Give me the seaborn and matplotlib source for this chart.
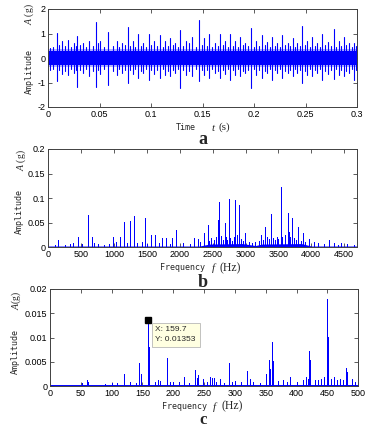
import numpy as np
import pandas as pd
import matplotlib
matplotlib.use("Agg")
import matplotlib.pyplot as plt
import seaborn as sns

# ---------------- data: panel a (time signal) ----------------
spike_t = [0.0016, 0.0081, 0.0130, 0.0195, 0.0250, 0.0282, 0.0341, 0.0399, 0.0464, 0.0503,
           0.0584, 0.0665, 0.0714, 0.0772, 0.0821, 0.0869, 0.0924, 0.0973, 0.1022, 0.1086,
           0.1135, 0.1184, 0.1232, 0.1281, 0.1336, 0.1395, 0.1466, 0.1515, 0.1563, 0.1622,
           0.1670, 0.1719, 0.1768, 0.1816, 0.1865, 0.1914, 0.1969, 0.2021, 0.2076, 0.2124,
           0.2173, 0.2222, 0.2270, 0.2325, 0.2374, 0.2416, 0.2465, 0.2514, 0.2562, 0.2611,
           0.2659, 0.2715, 0.2773, 0.2822, 0.2870, 0.2919, 0.2968]
spike_pos = [0.4, 1.03, 0.7, 0.74, 0.6, 0.9, 0.6, 0.71, 1.46, 0.7,
             1.07, 0.7, 0.6, 1.26, 0.7, 1.0, 0.6, 1.0, 0.7, 0.93,
             0.7, 0.8, 0.6, 1.14, 0.7, 0.85, 1.57, 0.8, 0.98, 0.6,
             1.0, 0.7, 1.0, 0.7, 0.85, 0.6, 1.21, 0.7, 0.93, 0.65,
             0.85, 0.6, 0.93, 0.6, 0.8, 0.6, 1.31, 0.7, 0.85, 0.6,
             1.0, 0.65, 1.17, 0.7, 0.85, 0.6, 0.6]
spike_neg = [-0.5, -0.93, -0.65, -0.7, -0.6, -1.17, -0.6, -0.75, -1.2, -0.65,
             -1.1, -0.7, -0.6, -1.0, -0.65, -0.8, -0.6, -0.9, -0.65, -0.8,
             -0.7, -0.75, -0.6, -1.23, -0.7, -0.75, -0.95, -0.7, -0.8, -0.6,
             -0.8, -0.65, -0.9, -0.7, -0.75, -0.6, -1.23, -0.7, -0.8, -0.6,
             -0.9, -0.6, -0.8, -0.6, -0.75, -0.6, -1.0, -0.7, -0.75, -0.6,
             -0.9, -0.65, -0.85, -0.7, -0.75, -0.6, -0.9]
minor_t = [0.0050, 0.0105, 0.0163, 0.0222, 0.0266, 0.0312, 0.0370, 0.0432, 0.0484, 0.0543,
           0.0625, 0.0690, 0.0743, 0.0797, 0.0845, 0.0897, 0.0949, 0.0998, 0.1054, 0.1110,
           0.1160, 0.1208, 0.1257, 0.1309, 0.1366, 0.1430, 0.1490, 0.1539, 0.1593, 0.1646,
           0.1695, 0.1744, 0.1792, 0.1841, 0.1890, 0.1942, 0.1995, 0.2049, 0.2100, 0.2149,
           0.2198, 0.2246, 0.2298, 0.2350, 0.2395, 0.2441, 0.2490, 0.2538, 0.2587, 0.2635,
           0.2687, 0.2744, 0.2798, 0.2846, 0.2895, 0.2944, 0.2990]
minor_pos = [0.45, 0.55, 0.5, 0.45, 0.5, 0.55, 0.45, 0.5, 0.6, 0.45,
             0.5, 0.45, 0.55, 0.5, 0.45, 0.5, 0.45, 0.55, 0.5, 0.45,
             0.5, 0.55, 0.45, 0.5, 0.6, 0.45, 0.55, 0.5, 0.45, 0.5,
             0.55, 0.45, 0.5, 0.45, 0.55, 0.5, 0.45, 0.5, 0.55, 0.45,
             0.5, 0.45, 0.55, 0.5, 0.45, 0.5, 0.55, 0.45, 0.5, 0.45,
             0.55, 0.5, 0.45, 0.5, 0.55, 0.45, 0.5]
minor_neg = [-0.45, -0.5, -0.55, -0.45, -0.5, -0.5, -0.45, -0.55, -0.5, -0.45,
             -0.55, -0.45, -0.5, -0.5, -0.45, -0.55, -0.45, -0.5, -0.5, -0.45,
             -0.55, -0.5, -0.45, -0.5, -0.55, -0.45, -0.5, -0.5, -0.45, -0.55,
             -0.5, -0.45, -0.5, -0.45, -0.55, -0.5, -0.45, -0.5, -0.55, -0.45,
             -0.5, -0.45, -0.55, -0.5, -0.45, -0.5, -0.55, -0.45, -0.5, -0.45,
             -0.55, -0.5, -0.45, -0.5, -0.55, -0.45, -0.5]
band_core = 0.27
band_halo = 0.36
time_range = [0, 0.3]
time_ticks = [0, 0.05, 0.1, 0.15, 0.2, 0.25, 0.3]
time_ticklabels = ["0", "0.05", "0.1", "0.15", "0.2", "0.25", "0.3"]
amp_a_ticks = [-2, -1, 0, 1, 2]
amp_a_ticklabels = ["-2", "-1", "0", "1", "2"]

# ---------------- data: panel b (full spectrum) ----------------
b_peak_f = [152, 448, 610, 661, 991, 1093, 1149, 1245, 1301, 1464,
            1566, 1627, 1728, 1789, 1881, 1942, 2210, 2271, 2363, 2424,
            2576, 2592, 2683, 2744, 2846, 2907, 2999, 3228, 3293, 3380,
            3537, 3639, 3711, 3802, 3868, 3964, 4040, 4269, 4345, 4452]
b_peak_a = [0.015, 0.02, 0.066, 0.02, 0.02, 0.02, 0.051, 0.054, 0.064, 0.059,
            0.025, 0.025, 0.019, 0.019, 0.019, 0.035, 0.018, 0.017, 0.028, 0.045,
            0.055, 0.091, 0.05, 0.097, 0.095, 0.086, 0.028, 0.025, 0.04, 0.067,
            0.122, 0.07, 0.06, 0.04, 0.028, 0.017, 0.011, 0.014, 0.008, 0.008]
b_small_f = [100, 250, 330, 380, 520, 700, 760, 850, 930, 1030, 1200, 1350, 1420, 1500,
             1680, 1850, 2050, 2150, 2300, 2450, 2480, 2520, 2550, 2620, 2650, 2700, 2720,
             2770, 2800, 2820, 2870, 2930, 2960, 3050, 3100, 3150, 3200, 3260, 3320, 3350,
             3420, 3450, 3480, 3500, 3560, 3600, 3660, 3680, 3740, 3760, 3840, 3900, 4100,
             4200, 4400, 4550, 4650]
b_small_a = [0.004, 0.005, 0.006, 0.008, 0.006, 0.008, 0.006, 0.005, 0.007, 0.01, 0.009, 0.008, 0.01, 0.006,
             0.008, 0.006, 0.008, 0.006, 0.01, 0.012, 0.018, 0.015, 0.02, 0.022, 0.015, 0.02, 0.014,
             0.018, 0.012, 0.02, 0.025, 0.016, 0.012, 0.01, 0.008, 0.01, 0.012, 0.015, 0.02, 0.016,
             0.018, 0.014, 0.02, 0.016, 0.02, 0.024, 0.03, 0.02, 0.018, 0.015, 0.012, 0.01, 0.008,
             0.006, 0.005, 0.006, 0.004]
b_floor_f = [0, 2300, 2450, 2950, 3150, 3250, 3850, 4000, 4700]
b_floor_a = [0.002, 0.002, 0.006, 0.007, 0.003, 0.006, 0.007, 0.002, 0.002]
freq_b_range = [0, 4700]
freq_b_ticks = [0, 500, 1000, 1500, 2000, 2500, 3000, 3500, 4000, 4500]
amp_b_ticks = [0, 0.05, 0.1, 0.15, 0.2]
amp_b_ticklabels = ["0", "0.05", "0.1", "0.15", "0.2"]

# ---------------- data: panel c (zoomed spectrum) ----------------
c_peak_f = [52, 60, 62, 90, 100, 108, 120, 130, 140, 145, 148, 159.7, 160.5, 170, 175, 178,
            190, 195, 200, 210, 218, 225, 235, 238, 240, 248, 255, 260, 263, 266, 270, 275,
            282, 290, 295, 300, 310, 320, 325, 330, 340, 350, 355, 357, 360, 362, 370, 378,
            385, 390, 400, 410, 415, 418, 420, 422, 430, 435, 440, 445, 450, 451, 455, 460,
            465, 470, 475, 480, 482, 490, 495]
c_peak_a = [0.0006, 0.0012, 0.0008, 0.0005, 0.0006, 0.0006, 0.0024, 0.0008, 0.0006, 0.0048, 0.0025,
            0.01353, 0.0081, 0.0008, 0.0012, 0.001, 0.0057, 0.0008, 0.0008, 0.0008, 0.0018, 0.0006,
            0.0032, 0.0016, 0.0023, 0.0015, 0.0008, 0.0018, 0.0016, 0.0017, 0.0008, 0.0015, 0.0007,
            0.0047, 0.0008, 0.001, 0.0008, 0.003, 0.0015, 0.0008, 0.0007, 0.0025, 0.0053, 0.0035,
            0.009, 0.0052, 0.001, 0.0012, 0.0008, 0.0018, 0.0008, 0.0012, 0.0018, 0.0015, 0.0072,
            0.0053, 0.0012, 0.0012, 0.0015, 0.0018, 0.018, 0.0101, 0.0015, 0.0018, 0.0012, 0.0015,
            0.0012, 0.0038, 0.0028, 0.0015, 0.0008]
c_floor = 0.0002
freq_c_range = [0, 500]
freq_c_ticks = [0, 50, 100, 150, 200, 250, 300, 350, 400, 450, 500]
amp_c_ticks = [0, 0.005, 0.01, 0.015, 0.02]
amp_c_ticklabels = ["0", "0.005", "0.01", "0.015", "0.02"]
tip_f = 159.7
tip_a = 0.01353
tip_text = "X: 159.7\nY: 0.01353"

# ---------------- style ----------------
sns.set_style("ticks")
plt.rcParams["font.family"] = ["Liberation Sans", "DejaVu Sans"]
plt.rcParams["mathtext.fontset"] = "custom"
plt.rcParams["mathtext.it"] = "Liberation Serif:italic"
plt.rcParams["mathtext.rm"] = "Liberation Serif"
LINE = "#0000FF"
SPINE = "#404040"
W, H = 374, 426

fig = plt.figure(figsize=(W / 100, H / 100), dpi=100)
fig.patch.set_facecolor("white")


def box(x0, x1, ytop, ybot):
    return [x0 / W, 1 - ybot / H, (x1 - x0) / W, (ybot - ytop) / H]


ax_a = fig.add_axes(box(48.3, 357.3, 9, 107))
ax_b = fig.add_axes(box(48.3, 357.3, 149, 247))
ax_c = fig.add_axes(box(50, 358.3, 289, 386))

# panel a
all_t = spike_t + minor_t
all_p = spike_pos + minor_pos
all_n = spike_neg + minor_neg
df_a = pd.DataFrame({
    "t": [t for t in all_t for _ in range(2)],
    "A": [v for p, n in zip(all_p, all_n) for v in (p, n)],
    "spike": [i for i in range(len(all_t)) for _ in range(2)],
})
ax_a.fill_between(time_range, [-band_halo] * 2, [band_halo] * 2, color=LINE, alpha=0.3, lw=0)
ax_a.fill_between(time_range, [-band_core] * 2, [band_core] * 2, color=LINE, lw=0)
sns.lineplot(data=df_a, x="t", y="A", units="spike", estimator=None, sort=False,
             color=LINE, lw=0.8, ax=ax_a)
ax_a.set_xlim(*time_range)
ax_a.set_ylim(-2, 2)
ax_a.set_xticks(time_ticks, time_ticklabels)
ax_a.set_yticks(amp_a_ticks, amp_a_ticklabels)


def spectrum_frame(fs, amps, base, frange):
    pts = sorted(zip(fs, amps))
    xs, ys = [frange[0]], [base]
    for f, a in pts:
        xs += [f, f, f]
        ys += [base, a, base]
    xs.append(frange[1])
    ys.append(base)
    return pd.DataFrame({"f": xs, "A": ys})


# panel b
ax_b.fill_between(b_floor_f, 0, b_floor_a, color=LINE, lw=0)
df_b = spectrum_frame(b_peak_f + b_small_f, b_peak_a + b_small_a, 0.0, freq_b_range)
sns.lineplot(data=df_b, x="f", y="A", sort=False, estimator=None, color=LINE, lw=0.6, ax=ax_b)
ax_b.set_xlim(*freq_b_range)
ax_b.set_ylim(0, 0.2)
ax_b.set_xticks(freq_b_ticks, [str(v) for v in freq_b_ticks])
ax_b.set_yticks(amp_b_ticks, amp_b_ticklabels)

# panel c
df_c = spectrum_frame(c_peak_f, c_peak_a, c_floor, freq_c_range)
sns.lineplot(data=df_c, x="f", y="A", sort=False, estimator=None, color=LINE, lw=0.7, ax=ax_c)
ax_c.set_xlim(*freq_c_range)
ax_c.set_ylim(0, 0.02)
ax_c.set_xticks(freq_c_ticks, [str(v) for v in freq_c_ticks])
ax_c.set_yticks(amp_c_ticks, amp_c_ticklabels)
ax_c.plot([tip_f], [tip_a], "s", color="black", ms=4.3, zorder=5)
ax_c.annotate(tip_text, xy=(tip_f, tip_a), xytext=(7, -6), textcoords="offset pixels",
              ha="left", va="top", fontsize=6, linespacing=1.5,
              bbox=dict(boxstyle="square,pad=0.45", fc="#FFFFE1", ec="#B8B8B8", lw=0.6),
              zorder=6)

for ax in (ax_a, ax_b, ax_c):
    ax.set_xlabel("")
    ax.set_ylabel("")
    ax.tick_params(direction="in", length=3, width=0.6, top=True, right=True,
                   labelsize=6.5, pad=2, colors=SPINE, labelcolor="black")
    for s in ax.spines.values():
        s.set_visible(True)
        s.set_color(SPINE)
        s.set_linewidth(0.7)

MONO = ["DejaVu Sans Mono"]
SERIF = ["Liberation Serif", "DejaVu Serif"]


def ft(x, y, s, **kw):
    fig.text(x / W, 1 - y / H, s, **kw)


# y labels
for xa, ya, xg, yg, lab in [(29, 72, 29, 14, r"$A$ (g)"), (19, 211.5, 21, 160, r"$A$ (g)"),
                            (15.5, 351.5, 16.5, 300, r"$A$(g)")]:
    ft(xa, ya, "Amplitude", family=MONO, fontsize=6, rotation=90, ha="center", va="center")
    ft(xg, yg, lab, family=SERIF, fontsize=7, rotation=90, ha="center", va="center")

# x labels
ft(186, 127.5, "Time", family=MONO, fontsize=6, ha="center", va="center")
ft(210.7, 127.5, r"$t$", family=SERIF, fontsize=8, ha="left", va="center")
ft(218.3, 127.5, "(s)", family=SERIF, fontsize=8, ha="left", va="center")
ft(182.5, 268, "Frequency", family=MONO, fontsize=6, ha="center", va="center")
ft(210.7, 268, r"$f$", family=SERIF, fontsize=8, ha="left", va="center")
ft(220, 268, "(Hz)", family=SERIF, fontsize=8.5, ha="left", va="center")
ft(184.7, 406.5, "Frequency", family=MONO, fontsize=6, ha="center", va="center")
ft(212.3, 406.5, r"$f$", family=SERIF, fontsize=8, ha="left", va="center")
ft(221.7, 406.5, "(Hz)", family=SERIF, fontsize=8.5, ha="left", va="center")

# panel letters
for y, s, fs in [(144, "a", 13), (286.7, "b", 13), (423.5, "c", 12)]:
    ft(203, y, s, family=SERIF, fontsize=fs, fontweight="bold", ha="center", va="baseline")

fig.savefig("out.png", dpi=100, facecolor="white")
